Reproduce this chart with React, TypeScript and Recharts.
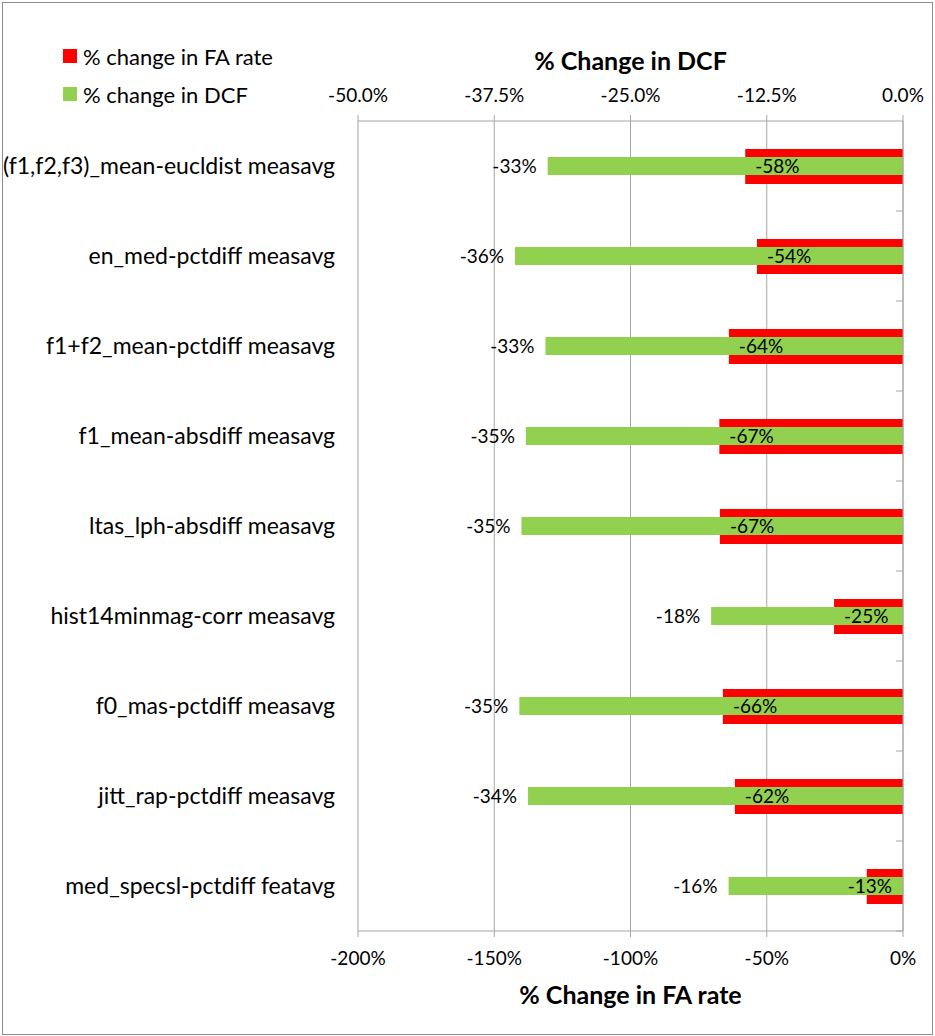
import React from 'react';
import { BarChart, Bar, XAxis, YAxis, CartesianGrid, LabelList, Label } from 'recharts';

const categories = [
  '(f1,f2,f3)_mean-eucldist measavg',
  'en_med-pctdiff measavg',
  'f1+f2_mean-pctdiff measavg',
  'f1_mean-absdiff measavg',
  'ltas_lph-absdiff measavg',
  'hist14minmag-corr measavg',
  'f0_mas-pctdiff measavg',
  'jitt_rap-pctdiff measavg',
  'med_specsl-pctdiff featavg',
];
const faRateChange = [-57.9, -53.6, -63.9, -67.4, -67.2, -25.3, -66.1, -61.7, -13.3];
const dcfChange = [-32.6, -35.6, -32.8, -34.6, -35.0, -17.6, -35.2, -34.4, -16.0];
const faTicks = [-200, -150, -100, -50, 0];
const dcfTicks = [-50, -37.5, -25, -12.5, 0];

const FA_NAME = '% change in FA rate';
const DCF_NAME = '% change in DCF';
const FA_COLOR = '#FF0000';
const DCF_COLOR = '#92D050';
const AXIS_GRAY = '#A6A6A6';
const FONT = 'Lato, "Open Sans", sans-serif';

const W = 935;
const H = 1036;
const TOP_AXIS_H = 121;
const BOTTOM_AXIS_H = 105;
const PLOT_H = H - TOP_AXIS_H - BOTTOM_AXIS_H;

const data = categories.map((name, i) => ({
  name,
  fa: faRateChange[i],
  dcf: dcfChange[i],
}));

const pct = (v: number) => `${Math.round(v)}%`;

function barBox(props: any) {
  const vb = props.viewBox ?? props;
  const x = Number(vb.x ?? props.x);
  const y = Number(vb.y ?? props.y);
  const w = Number(vb.width ?? props.width);
  const h = Number(vb.height ?? props.height);
  return { left: Math.min(x, x + w), right: Math.max(x, x + w), cy: y + h / 2 };
}

// red labels: just inside the bar end, pushed back if the bar is too short
const FaLabel = (props: any) => {
  const { left, right, cy } = barBox(props);
  const fits = right - left >= 64;
  return (
    <text
      x={fits ? left + 10 : right - 11}
      y={cy}
      dy="0.35em"
      textAnchor={fits ? 'start' : 'end'}
      fontSize={19}
      fontFamily={FONT}
      fill="#000"
    >
      {pct(props.value)}
    </text>
  );
};

// green labels: outside the bar end
const DcfLabel = (props: any) => {
  const { left, cy } = barBox(props);
  return (
    <text x={left - 11} y={cy} dy="0.35em" textAnchor="end" fontSize={19} fontFamily={FONT} fill="#000">
      {pct(props.value)}
    </text>
  );
};

const CategoryTick = (props: any) => (
  <text x={props.x} y={props.y} dy="0.35em" textAnchor="end" fontSize={23} fontFamily={FONT} fill="#000">
    {props.payload.value}
  </text>
);

// excel puts category tick marks between the bands, on the inner side
const BoundaryTick = (props: any) => {
  const half = PLOT_H / categories.length / 2;
  return <line x1={props.x - 7} x2={props.x} y1={props.y + half} y2={props.y + half} stroke={AXIS_GRAY} />;
};

const legendItems = [
  { name: FA_NAME, color: FA_COLOR },
  { name: DCF_NAME, color: DCF_COLOR },
];

export default function App() {
  return (
    <div style={{ position: 'relative', width: W, height: H, background: '#fff', fontFamily: FONT }}>
      <style>{'body{margin:0}'}</style>
      <div
        style={{
          position: 'absolute',
          left: 2,
          top: 2,
          width: 931,
          height: 1033,
          border: '1px solid #8C8C8C',
          boxSizing: 'border-box',
        }}
      />
      <BarChart
        width={W}
        height={H}
        data={data}
        layout="vertical"
        margin={{ top: 0, right: 0, bottom: 0, left: 0 }}
        style={{ position: 'absolute', left: 0, top: 0 }}
      >
        <CartesianGrid xAxisId="fa" yAxisId="cat" horizontal={false} stroke={AXIS_GRAY} />
        <XAxis
          xAxisId="fa"
          type="number"
          orientation="bottom"
          domain={[-200, 0]}
          ticks={faTicks}
          height={BOTTOM_AXIS_H}
          tickFormatter={(v: number) => `${v}%`}
          stroke={AXIS_GRAY}
          tickSize={6}
          tickMargin={15}
          tick={{ fill: '#000', fontSize: 19, fontFamily: FONT }}
        >
          <Label value="% Change in FA rate" position="insideBottom" offset={32} fontSize={25} fontWeight={700} fill="#000" fontFamily={FONT} />
        </XAxis>
        <XAxis
          xAxisId="dcf"
          type="number"
          orientation="top"
          domain={[-50, 0]}
          ticks={dcfTicks}
          height={TOP_AXIS_H}
          tickFormatter={(v: number) => `${v.toFixed(1)}%`}
          stroke={AXIS_GRAY}
          tickSize={6}
          tickMargin={13}
          tick={{ fill: '#000', fontSize: 19, fontFamily: FONT }}
        >
          <Label value="% Change in DCF" position="insideTop" offset={52} fontSize={25} fontWeight={700} fill="#000" fontFamily={FONT} />
        </XAxis>
        <YAxis
          yAxisId="cat"
          type="category"
          dataKey="name"
          orientation="left"
          width={358}
          axisLine={false}
          tickLine={false}
          tickSize={0}
          tickMargin={23}
          tick={<CategoryTick />}
          interval={0}
        />
        <YAxis
          yAxisId="edge"
          type="category"
          dataKey="name"
          orientation="right"
          width={32}
          stroke={AXIS_GRAY}
          tickLine={false}
          tickSize={0}
          tickMargin={0}
          tick={<BoundaryTick />}
          interval={0}
        />
        <Bar xAxisId="fa" yAxisId="cat" dataKey="fa" name={FA_NAME} fill={FA_COLOR} barSize={35} isAnimationActive={false} />
        <Bar xAxisId="dcf" yAxisId="edge" dataKey="dcf" name={DCF_NAME} fill={DCF_COLOR} barSize={18} isAnimationActive={false}>
          <LabelList dataKey="dcf" content={<DcfLabel />} />
        </Bar>
        <YAxis yAxisId="labels" type="category" dataKey="name" hide />
        <Bar xAxisId="fa" yAxisId="labels" dataKey="fa" fill="transparent" barSize={35} isAnimationActive={false}>
          <LabelList dataKey="fa" content={<FaLabel />} />
        </Bar>
      </BarChart>
      <div style={{ position: 'absolute', left: 63, top: 37 }}>
        {legendItems.map((item) => (
          <div key={item.name} style={{ display: 'flex', alignItems: 'center', height: 38, fontSize: 22, color: '#000' }}>
            <span style={{ width: 14, height: 14, background: item.color, marginRight: 6, display: 'inline-block' }} />
            {item.name}
          </div>
        ))}
      </div>
    </div>
  );
}
